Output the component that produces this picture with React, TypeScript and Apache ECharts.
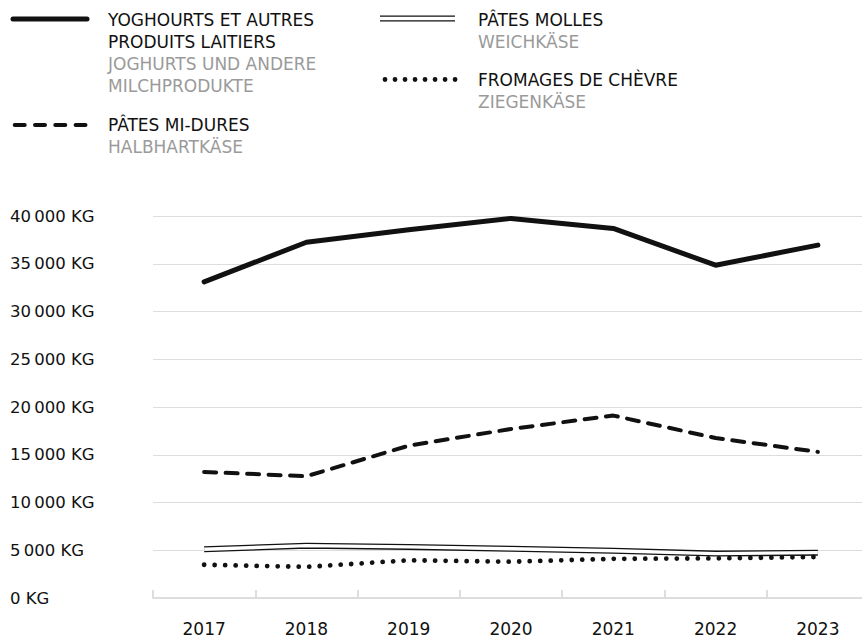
import React, { useEffect, useRef } from "react";
import * as echarts from "echarts";

const years = ["2017", "2018", "2019", "2020", "2021", "2022", "2023"];
const yoghurts = [33100, 37250, 38550, 39750, 38700, 34850, 36950];
const patesMiDures = [13200, 12750, 15950, 17700, 19100, 16750, 15300];
const patesMolles = [5100, 5480, 5350, 5150, 4950, 4650, 4750];
const fromagesChevre = [3480, 3260, 3950, 3800, 4100, 4150, 4300];

const yTicks = { min: 0, max: 40000, interval: 5000 };

const FONT = "DejaVu Sans";
const BLACK = "#111111";
const GRAY = "#9a9a9a";
const GRID = "#dddddd";

function fmt(v: number): string {
  return String(v).replace(/\B(?=(\d{3})+(?!\d))/g, "\u2009") + " KG";
}

function txt(x: number, y: number, text: string, fill: string) {
  return {
    type: "text",
    x,
    y,
    style: {
      text,
      fill,
      fontSize: 17,
      fontFamily: FONT,
      verticalAlign: "middle",
      align: "left",
    },
  };
}

function ln(x1: number, x2: number, y: number, style: any) {
  return {
    type: "line",
    shape: { x1, y1: y, x2, y2: y },
    style: Object.assign({ stroke: BLACK, fill: "none" }, style),
  };
}

export default function App() {
  const ref = useRef<HTMLDivElement>(null);

  useEffect(() => {
    if (!ref.current) return;
    const chart = echarts.init(ref.current, undefined, { renderer: "svg" });
    const option: any = {
      animation: false,
      backgroundColor: "#ffffff",
      grid: { left: 153, top: 216, width: 716, bottom: 39, containLabel: false },
      xAxis: {
        type: "category",
        data: years,
        boundaryGap: true,
        axisLine: { show: true, lineStyle: { color: GRID, width: 2 } },
        axisTick: { show: true, inside: true, length: 8, lineStyle: { color: GRID, width: 2 } },
        axisLabel: { margin: 22, fontSize: 17, color: BLACK, fontFamily: FONT },
        splitLine: { show: false },
      },
      yAxis: {
        type: "value",
        min: yTicks.min,
        max: yTicks.max,
        interval: yTicks.interval,
        axisLine: { show: false },
        axisTick: { show: false },
        axisLabel: {
          align: "left",
          margin: 143,
          fontSize: 16.5,
          color: BLACK,
          fontFamily: FONT,
          formatter: (v: number) => fmt(v),
        },
        splitLine: { lineStyle: { color: GRID, width: 1.2 } },
      },
      series: [
        {
          name: "Pâtes molles (contour)",
          type: "line",
          data: patesMolles,
          symbol: "none",
          lineStyle: { color: BLACK, width: 6, cap: "butt", join: "round" },
          z: 2,
        },
        {
          name: "Pâtes molles",
          type: "line",
          data: patesMolles,
          symbol: "none",
          lineStyle: { color: "#ffffff", width: 3.4, cap: "butt", join: "round" },
          z: 3,
        },
        {
          name: "Fromages de chèvre",
          type: "line",
          data: fromagesChevre,
          symbol: "none",
          lineStyle: { color: BLACK, width: 4.8, type: [0.01, 10.5], cap: "round", join: "round" },
          z: 4,
        },
        {
          name: "Pâtes mi-dures",
          type: "line",
          data: patesMiDures,
          symbol: "none",
          lineStyle: { color: BLACK, width: 4, type: [12, 9.5], cap: "round", join: "round" },
          z: 4,
        },
        {
          name: "Yoghourts et autres produits laitiers",
          type: "line",
          data: yoghurts,
          symbol: "none",
          lineStyle: { color: BLACK, width: 5, cap: "round", join: "round" },
          z: 5,
        },
      ],
      graphic: [
        ln(13, 87, 19, { lineWidth: 5, lineCap: "round" }),
        txt(108, 20, "YOGHOURTS ET AUTRES", BLACK),
        txt(108, 42, "PRODUITS LAITIERS", BLACK),
        txt(108, 64, "JOGHURTS UND ANDERE", GRAY),
        txt(108, 86, "MILCHPRODUKTE", GRAY),
        ln(14.7, 85.5, 125, { lineWidth: 4, lineCap: "round", lineDash: [10, 10.3] }),
        txt(108, 125, "PÂTES MI-DURES", BLACK),
        txt(108, 147, "HALBHARTKÄSE", GRAY),
        ln(380, 455, 18.5, { lineWidth: 6, lineCap: "butt" }),
        ln(380, 455, 18.5, { lineWidth: 3.4, lineCap: "butt", stroke: "#ffffff" }),
        txt(478, 20, "PÂTES MOLLES", BLACK),
        txt(478, 42, "WEICHKÄSE", GRAY),
        ln(385, 456, 79.5, { lineWidth: 4.8, lineCap: "round", lineDash: [0.01, 10] }),
        txt(478, 80, "FROMAGES DE CHÈVRE", BLACK),
        txt(478, 102, "ZIEGENKÄSE", GRAY),
      ],
    };
    chart.setOption(option);
    return () => chart.dispose();
  }, []);

  return (
    <div
      ref={ref}
      style={{ position: "fixed", left: 0, top: 0, width: 872, height: 637, background: "#fff" }}
    />
  );
}
